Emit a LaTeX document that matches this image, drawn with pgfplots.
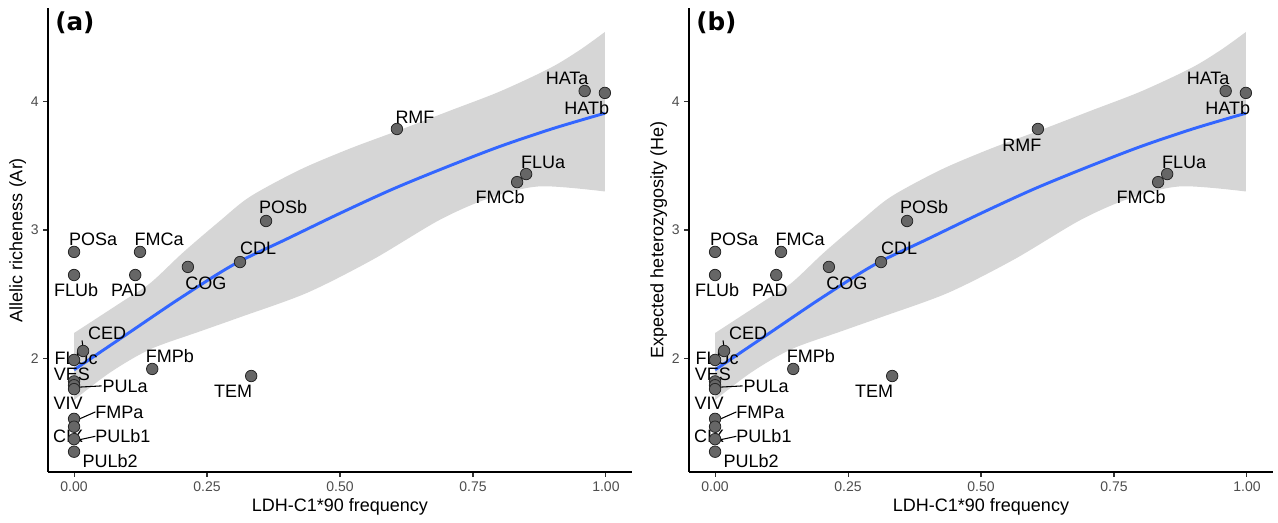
\documentclass[border=0pt]{standalone}
\usepackage{fontspec}
\setmainfont{Liberation Sans}
\newfontfamily\tagfont{DejaVu Sans}
\usepackage{pgfplots}
\pgfplotsset{compat=1.18}
\usepgfplotslibrary{fillbetween}

\definecolor{fitline}{HTML}{3366FF}
\definecolor{ciband}{HTML}{D6D6D6}
\definecolor{ptfill}{HTML}{666666}
\definecolor{ticktext}{HTML}{4D4D4D}

% sampled points (same in both panels)
\pgfplotstableread{
x y
0.960 4.083
0.998 4.068
0.607 3.787
0.850 3.436
0.833 3.373
0.361 3.070
0.312 2.750
0.214 2.712
0.000 2.829
0.124 2.829
0.000 2.649
0.115 2.649
0.017 2.057
0.000 1.987
0.000 1.820
0.000 1.790
0.000 1.760
0.000 1.528
0.000 1.467
0.000 1.370
0.000 1.272
0.147 1.917
0.333 1.862
}\ptsdata

% fitted curve
\pgfplotstableread{
x y
0.0 1.91
0.1 2.19
0.2 2.47
0.3 2.73
0.4 2.93
0.5 3.13
0.6 3.32
0.7 3.49
0.8 3.65
0.9 3.79
0.998 3.91
}\fitdata

% confidence band edges
\pgfplotstableread{
x y
0.000 2.197
0.090 2.440
0.143 2.585
0.205 2.825
0.274 3.070
0.331 3.260
0.425 3.470
0.519 3.635
0.613 3.780
0.707 3.930
0.801 4.080
0.895 4.262
0.951 4.403
0.998 4.543
}\bandhi
\pgfplotstableread{
x y
0.000 1.675
0.068 1.890
0.143 2.070
0.237 2.210
0.312 2.320
0.438 2.510
0.562 2.770
0.688 3.080
0.782 3.250
0.876 3.340
0.998 3.300
}\bandlo

\newcommand{\lblfont}{\fontsize{13.5}{16}\selectfont}
\newcommand{\lab}[3]{\node[font=\lblfont,inner sep=0pt] at (axis cs:#1,#2) {#3};}

\pgfplotsset{panel/.style={
  scale only axis, width=438pt, height=348pt, anchor=south west,
  xmin=-0.049, xmax=1.049, ymin=1.114, ymax=4.73,
  axis lines*=left, axis line style={line width=0.9pt},
  tick align=outside, major tick length=3.5pt,
  every tick/.style={line width=0.8pt, color=black!80},
  xtick={0,0.25,0.5,0.75,1}, xticklabels={0.00,0.25,0.50,0.75,1.00},
  ytick={2,3,4},
  /pgf/number format/assume math mode=true,
  tick label style={font=\fontsize{10.5}{12}\selectfont, color=ticktext},
  every axis x label/.style={at={(axis description cs:0.5,-0.075)}, anchor=center, font=\lblfont},
  every axis y label/.style={at={(axis description cs:-0.052,0.5)}, anchor=center, rotate=90, font=\lblfont},
  xlabel={LDH-C1*90 frequency},
}}

\newcommand{\panel}[4]{%
\begin{axis}[panel, at={(#1,38.25pt)}, ylabel={#2}]
\addplot[name path=up, draw=none, smooth] table {\bandhi};
\addplot[name path=lo, draw=none, smooth] table {\bandlo};
\addplot[fill=ciband, draw=none] fill between[of=up and lo];
\addplot[color=fitline, line width=2.2pt, smooth] table {\fitdata};
% repel segments
\addplot[black, line width=0.8pt] coordinates {(0.017,2.08)(0.015,2.14)};
\addplot[black, line width=0.8pt] coordinates {(0.008,1.775)(0.052,1.785)};
\addplot[black, line width=0.8pt] coordinates {(0.006,1.52)(0.040,1.582)};
\addplot[black, line width=0.8pt] coordinates {(0.004,1.36)(0.040,1.392)};
\addplot[only marks, mark=*, mark size=4.3pt,
  mark options={fill=ptfill, draw=black!85, line width=0.6pt}] table {\ptsdata};
\lab{0.927}{4.185}{HATa}
\lab{0.964}{3.951}{HATb}
#3
\lab{0.882}{3.530}{FLUa}
\lab{0.801}{3.257}{FMCb}
\lab{0.393}{3.179}{POSb}
\lab{0.346}{2.860}{CDL}
\lab{0.248}{2.587}{COG}
\lab{0.160}{2.930}{FMCa}
\lab{0.036}{2.930}{POSa}
\lab{0.004}{2.532}{FLUb}
\lab{0.103}{2.532}{PAD}
\lab{0.062}{2.197}{CED}
\lab{0.004}{2.002}{FLUc}
\lab{-0.004}{1.878}{VES}
\lab{0.096}{1.784}{PULa}
\lab{-0.011}{1.652}{VIV}
\lab{0.085}{1.581}{FMPa}
\lab{-0.011}{1.394}{CIX}
\lab{0.092}{1.394}{PULb1}
\lab{0.068}{1.200}{PULb2}
\lab{0.180}{2.018}{FMPb}
\lab{0.299}{1.745}{TEM}
\node[anchor=west, inner sep=0pt, font=\tagfont\bfseries\fontsize{18.5}{20}\selectfont]
  at (axis description cs:0.012,0.968) {#4};
\end{axis}}

\begin{document}
\begin{tikzpicture}
\path (0,0) rectangle (958.5pt,392.25pt);
\panel{36pt}{Allelic richeness (Ar)}{\lab{0.641}{3.881}{RMF}}{(a)}
\panel{516.75pt}{Expected heterozygosity (He)}{\lab{0.577}{3.663}{RMF}}{(b)}
\end{tikzpicture}
\end{document}
